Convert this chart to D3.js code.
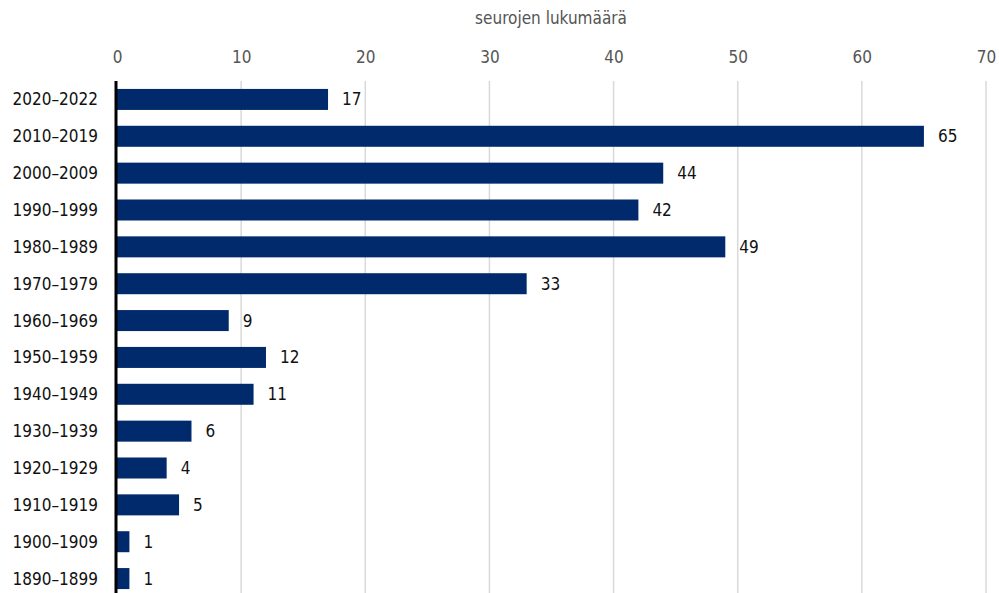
<!DOCTYPE html>
<meta charset="utf-8">
<html lang="fi">
<head>
    <title>Seurojen lukumäärä</title>
    <script src="https://d3js.org/d3.v7.min.js"></script>
</head>
<style>
    body { margin: 0; background: #fff; }
    text { font-family: "Liberation Sans Narrow", "DejaVu Sans Condensed", sans-serif; }
    .tick text { font-size: 17px; fill: #555; }
    .cat { font-size: 17px; fill: #111; }
    .val { font-size: 17px; fill: #111; }
    .title { font-size: 17px; fill: #555; text-anchor: middle; }
</style>
<body>
<script>
    var decades = ["2020–2022", "2010–2019", "2000–2009", "1990–1999", "1980–1989", "1970–1979",
        "1960–1969", "1950–1959", "1940–1949", "1930–1939", "1920–1929", "1910–1919",
        "1900–1909", "1890–1899"];
    var counts = [17, 65, 44, 42, 49, 33, 9, 12, 11, 6, 4, 5, 1, 1];
    var ticks = [0, 10, 20, 30, 40, 50, 60, 70];

    var svg = d3.select("body").append("svg").attr("width", 999).attr("height", 593);

    var x = d3.scaleLinear().domain([0, 70]).range([117, 986]);
    var y = d3.scaleBand().domain(decades).range([81, 597]).paddingInner(0.43).paddingOuter(0.215);

    // grid
    svg.append("g").selectAll("line").data(ticks.slice(1)).enter().append("line")
        .attr("x1", d => x(d)).attr("x2", d => x(d))
        .attr("y1", 81).attr("y2", 593)
        .attr("stroke", "#d9d9d9").attr("stroke-width", 1.5);

    // top axis, labels only
    var ax = svg.append("g").attr("transform", "translate(0,81)")
        .call(d3.axisTop(x).tickValues(ticks).tickSize(0).tickPadding(18));
    ax.select(".domain").remove();

    svg.append("text").attr("class", "title").attr("x", 551).attr("y", 24).text("seurojen lukumäärä");

    svg.append("g").selectAll("rect").data(decades).enter().append("rect")
        .attr("x", x(0))
        .attr("y", d => y(d))
        .attr("width", (d, i) => x(counts[i]) - x(0))
        .attr("height", y.bandwidth())
        .attr("fill", "#002a6b");

    svg.append("g").selectAll("text").data(decades).enter().append("text")
        .attr("class", "val")
        .attr("x", (d, i) => x(counts[i]) + 14)
        .attr("y", d => y(d) + y.bandwidth() / 2)
        .attr("dy", "0.35em")
        .text((d, i) => counts[i]);

    svg.append("g").selectAll("text").data(decades).enter().append("text")
        .attr("class", "cat")
        .attr("x", 98)
        .attr("y", d => y(d) + y.bandwidth() / 2)
        .attr("dy", "0.35em")
        .attr("text-anchor", "end")
        .text(d => d);

    // zero line
    svg.append("line").attr("x1", x(0) - 1).attr("x2", x(0) - 1).attr("y1", 81).attr("y2", 593)
        .attr("stroke", "#000").attr("stroke-width", 3);
</script>
</body>
</html>
